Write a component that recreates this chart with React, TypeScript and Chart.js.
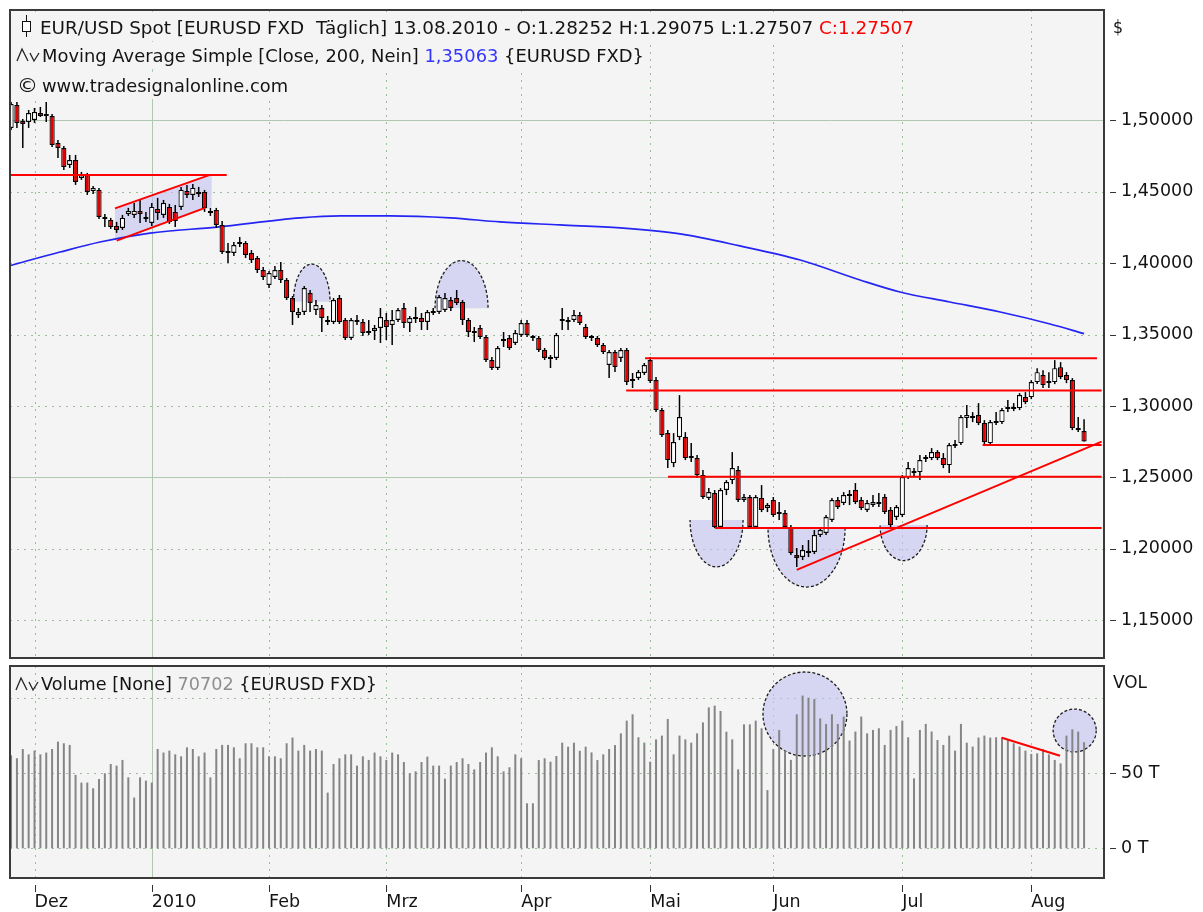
import React, { useEffect, useRef } from 'react';
import { Chart, registerables } from 'chart.js';

Chart.register(...registerables);

const FONT = '"DejaVu Sans", Verdana, sans-serif';
const PLOT_BG = '#f4f4f4';
const GRID_DOT = '#9cbc9c';
const GRID_SOLID = '#b0c8b0';
const BORDER = '#3a3a3a';
const TEXT = '#141414';
const RED = '#ff0000';
const BODY_RED = '#e40000';
const LAVENDER = 'rgba(196,196,240,0.62)';

// ---------- price data (EUR/USD daily, index 0 = 25.11.2009) ----------
const opens = [1.4947, 1.5108, 1.4996, 1.4989, 1.5003, 1.5052, 1.5031, 1.5031, 1.4842, 1.4807,
  1.4688, 1.4723, 1.4597, 1.4618, 1.4506, 1.4513, 1.4324, 1.4303, 1.4261, 1.4247,
  1.4345, 1.4338, 1.4366, 1.4324, 1.4282, 1.4380, 1.4338, 1.4394, 1.4359, 1.4394,
  1.4506, 1.4478, 1.4492, 1.4499, 1.4366, 1.4373, 1.4268, 1.4085, 1.4071, 1.4148,
  1.4141, 1.4071, 1.4036, 1.3952, 1.3847, 1.3903, 1.3952, 1.3882, 1.3756, 1.3637,
  1.3658, 1.3791, 1.3672, 1.3686, 1.3602, 1.3588, 1.3756, 1.3602, 1.3476, 1.3602,
  1.3588, 1.3518, 1.3525, 1.3546, 1.3602, 1.3567, 1.3602, 1.3686, 1.3581, 1.3616,
  1.3616, 1.3588, 1.3665, 1.3658, 1.3672, 1.3742, 1.3756, 1.3728, 1.3602, 1.3525,
  1.3546, 1.3483, 1.3322, 1.3266, 1.3455, 1.3476, 1.3441, 1.3497, 1.3581, 1.3483,
  1.3476, 1.3392, 1.3336, 1.3336, 1.3595, 1.3588, 1.3602, 1.3637, 1.3553, 1.3476,
  1.3476, 1.3427, 1.3287, 1.3378, 1.3336, 1.3392, 1.3175, 1.3196, 1.3231, 1.3322,
  1.3182, 1.2971, 1.2810, 1.2600, 1.2782, 1.2782, 1.2635, 1.2635, 1.2516, 1.2355,
  1.2390, 1.2152, 1.2411, 1.2481, 1.2551, 1.2341, 1.2362, 1.2152, 1.2355, 1.2285,
  1.2341, 1.2243, 1.2250, 1.2152, 1.1956, 1.1942, 1.1984, 1.1977, 1.2096, 1.2110,
  1.2201, 1.2341, 1.2320, 1.2369, 1.2411, 1.2341, 1.2271, 1.2306, 1.2320, 1.2362,
  1.2271, 1.2222, 1.2236, 1.2502, 1.2544, 1.2537, 1.2628, 1.2635, 1.2677, 1.2635,
  1.2586, 1.2719, 1.2740, 1.2915, 1.2929, 1.2936, 1.2880, 1.2740, 1.2880, 1.2887,
  1.2978, 1.2985, 1.2985, 1.3062, 1.3062, 1.3167, 1.3216, 1.3174, 1.3167, 1.3272,
  1.3216, 1.3181, 1.2845, 1.28252];

const highs = [1.5129, 1.5129, 1.5010, 1.5073, 1.5087, 1.5094, 1.5129, 1.5045, 1.4863, 1.4821,
  1.4758, 1.4758, 1.4639, 1.4632, 1.4541, 1.4527, 1.4345, 1.4317, 1.4289, 1.4338,
  1.4387, 1.4422, 1.4443, 1.4359, 1.4422, 1.4457, 1.4443, 1.4415, 1.4408, 1.4534,
  1.4548, 1.4555, 1.4534, 1.4513, 1.4387, 1.4387, 1.4296, 1.4141, 1.4148, 1.4183,
  1.4155, 1.4092, 1.4050, 1.3973, 1.3945, 1.3980, 1.4008, 1.3896, 1.3770, 1.3686,
  1.3840, 1.3812, 1.3742, 1.3707, 1.3630, 1.3756, 1.3777, 1.3616, 1.3616, 1.3637,
  1.3609, 1.3602, 1.3567, 1.3686, 1.3651, 1.3672, 1.3686, 1.3721, 1.3630, 1.3693,
  1.3651, 1.3672, 1.3686, 1.3777, 1.3791, 1.3763, 1.3812, 1.3742, 1.3616, 1.3553,
  1.3567, 1.3497, 1.3343, 1.3420, 1.3518, 1.3497, 1.3532, 1.3602, 1.3602, 1.3497,
  1.3490, 1.3406, 1.3357, 1.3511, 1.3686, 1.3623, 1.3672, 1.3658, 1.3574, 1.3497,
  1.3490, 1.3441, 1.3392, 1.3392, 1.3406, 1.3406, 1.3231, 1.3252, 1.3301, 1.3343,
  1.3203, 1.2985, 1.2831, 1.2810, 1.3076, 1.2817, 1.2740, 1.2656, 1.2551, 1.2425,
  1.2411, 1.2425, 1.2481, 1.2677, 1.2579, 1.2383, 1.2376, 1.2376, 1.2446, 1.2320,
  1.2362, 1.2327, 1.2271, 1.2166, 1.2005, 1.2026, 1.2061, 1.2131, 1.2145, 1.2236,
  1.2355, 1.2362, 1.2397, 1.2411, 1.2460, 1.2362, 1.2341, 1.2376, 1.2390, 1.2383,
  1.2292, 1.2306, 1.2516, 1.2607, 1.2565, 1.2656, 1.2656, 1.2705, 1.2691, 1.2670,
  1.2740, 1.2761, 1.2936, 1.3006, 1.2957, 1.3020, 1.2901, 1.2901, 1.2957, 1.2985,
  1.3041, 1.3020, 1.3090, 1.3097, 1.3181, 1.3265, 1.3251, 1.3237, 1.3321, 1.3307,
  1.3237, 1.3195, 1.2922, 1.29075];

const lows = [1.4933, 1.4947, 1.4807, 1.4947, 1.4982, 1.5024, 1.4989, 1.4814, 1.4737, 1.4653,
  1.4667, 1.4548, 1.4583, 1.4478, 1.4485, 1.4310, 1.4254, 1.4240, 1.4212, 1.4233,
  1.4331, 1.4317, 1.4282, 1.4289, 1.4261, 1.4303, 1.4317, 1.4275, 1.4254, 1.4373,
  1.4457, 1.4443, 1.4464, 1.4359, 1.4331, 1.4247, 1.4064, 1.4001, 1.4050, 1.4113,
  1.4036, 1.4001, 1.3931, 1.3882, 1.3826, 1.3889, 1.3861, 1.3742, 1.3567, 1.3616,
  1.3637, 1.3658, 1.3637, 1.3518, 1.3567, 1.3574, 1.3574, 1.3462, 1.3462, 1.3567,
  1.3490, 1.3497, 1.3462, 1.3441, 1.3462, 1.3427, 1.3588, 1.3546, 1.3518, 1.3581,
  1.3532, 1.3532, 1.3637, 1.3644, 1.3658, 1.3665, 1.3707, 1.3567, 1.3483, 1.3448,
  1.3469, 1.3308, 1.3252, 1.3252, 1.3413, 1.3392, 1.3427, 1.3483, 1.3483, 1.3455,
  1.3378, 1.3322, 1.3266, 1.3322, 1.3532, 1.3532, 1.3588, 1.3567, 1.3469, 1.3455,
  1.3413, 1.3364, 1.3196, 1.3238, 1.3308, 1.3147, 1.3126, 1.3182, 1.3217, 1.3161,
  1.2957, 1.2782, 1.2565, 1.2572, 1.2761, 1.2621, 1.2607, 1.2495, 1.2348, 1.2341,
  1.2145, 1.2138, 1.2376, 1.2453, 1.2327, 1.2327, 1.2145, 1.2138, 1.2257, 1.2257,
  1.2222, 1.2201, 1.2138, 1.1956, 1.1872, 1.1921, 1.1942, 1.1963, 1.2082, 1.2096,
  1.2187, 1.2278, 1.2306, 1.2306, 1.2313, 1.2271, 1.2257, 1.2292, 1.2292, 1.2243,
  1.2152, 1.2201, 1.2222, 1.2488, 1.2502, 1.2481, 1.2607, 1.2621, 1.2621, 1.2565,
  1.2530, 1.2705, 1.2726, 1.2845, 1.2887, 1.2866, 1.2733, 1.2726, 1.2866, 1.2873,
  1.2957, 1.2964, 1.2971, 1.3013, 1.3048, 1.3153, 1.3125, 1.3125, 1.3153, 1.3188,
  1.3160, 1.2831, 1.2817, 1.27507];

const closes = [1.5115, 1.4982, 1.4975, 1.5052, 1.5059, 1.5031, 1.5045, 1.4828, 1.4807, 1.4674,
  1.4723, 1.4569, 1.4618, 1.4499, 1.4527, 1.4324, 1.4310, 1.4254, 1.4233, 1.4317,
  1.4366, 1.4366, 1.4345, 1.4310, 1.4394, 1.4352, 1.4422, 1.4289, 1.4296, 1.4513,
  1.4478, 1.4527, 1.4485, 1.4387, 1.4352, 1.4268, 1.4078, 1.4071, 1.4127, 1.4134,
  1.4057, 1.4022, 1.3952, 1.3903, 1.3931, 1.3952, 1.3882, 1.3756, 1.3658, 1.3658,
  1.3826, 1.3721, 1.3707, 1.3616, 1.3588, 1.3742, 1.3588, 1.3476, 1.3602, 1.3588,
  1.3511, 1.3511, 1.3546, 1.3623, 1.3553, 1.3602, 1.3672, 1.3581, 1.3616, 1.3609,
  1.3588, 1.3658, 1.3651, 1.3763, 1.3756, 1.3686, 1.3721, 1.3602, 1.3518, 1.3511,
  1.3483, 1.3322, 1.3266, 1.3406, 1.3469, 1.3406, 1.3511, 1.3581, 1.3497, 1.3476,
  1.3392, 1.3336, 1.3329, 1.3497, 1.3609, 1.3595, 1.3637, 1.3581, 1.3483, 1.3483,
  1.3427, 1.3378, 1.3378, 1.3273, 1.3392, 1.3168, 1.3189, 1.3238, 1.3287, 1.3175,
  1.2971, 1.2796, 1.2621, 1.2747, 1.2922, 1.2635, 1.2642, 1.2516, 1.2362, 1.2397,
  1.2152, 1.2411, 1.2467, 1.2565, 1.2341, 1.2362, 1.2152, 1.2362, 1.2271, 1.2306,
  1.2236, 1.2257, 1.2152, 1.1970, 1.1935, 1.1991, 1.1970, 1.2096, 1.2131, 1.2222,
  1.2341, 1.2292, 1.2376, 1.2383, 1.2327, 1.2285, 1.2320, 1.2327, 1.2313, 1.2257,
  1.2166, 1.2292, 1.2502, 1.2565, 1.2530, 1.2621, 1.2642, 1.2677, 1.2635, 1.2586,
  1.2726, 1.2733, 1.2922, 1.2936, 1.2915, 1.2880, 1.2747, 1.2887, 1.2887, 1.2971,
  1.2992, 1.2978, 1.3076, 1.3027, 1.3167, 1.3237, 1.3146, 1.3160, 1.3265, 1.3202,
  1.3181, 1.2845, 1.2831, 1.27507];

// volume in thousands
const volumes = [62.0, 60.0, 66.2, 62.6, 65.1, 62.6, 63.8, 66.2, 71.1, 70.0,
  68.9, 48.9, 43.8, 43.8, 40.0, 46.2, 50.0, 56.2, 55.1, 58.9,
  47.3, 33.8, 47.3, 45.1, 43.8, 66.2, 63.8, 65.1, 62.6, 61.3,
  67.3, 66.2, 61.3, 63.8, 47.3, 66.2, 68.9, 68.9, 67.3, 60.0,
  70.0, 70.0, 67.3, 67.3, 61.3, 61.3, 60.0, 70.0, 73.8, 65.1,
  68.9, 65.1, 66.2, 65.1, 37.1, 56.2, 60.0, 62.6, 62.6, 55.1,
  61.3, 58.9, 63.8, 61.3, 58.9, 63.8, 62.6, 57.5, 50.0, 51.3,
  57.5, 61.1, 55.1, 55.1, 46.4, 55.1, 57.5, 60.0, 56.2, 52.6,
  57.5, 63.8, 67.3, 61.3, 51.3, 54.0, 62.6, 60.0, 30.0, 30.0,
  58.8, 60.0, 57.7, 61.5, 70.4, 67.7, 70.4, 65.0, 67.7, 63.9,
  58.8, 62.6, 66.2, 68.8, 76.6, 85.1, 89.3, 74.0, 70.4, 57.7,
  72.6, 75.1, 86.2, 62.6, 75.1, 72.6, 70.4, 76.6, 83.9, 93.9,
  95.1, 91.5, 77.7, 72.6, 52.6, 82.6, 82.6, 85.1, 80.0, 38.8,
  66.2, 78.8, 65.1, 58.9, 89.3, 101.8, 100.4, 99.5, 86.6, 82.9,
  89.3, 82.9, 87.8, 71.8, 77.8, 87.8, 76.6, 78.9, 80.0, 68.9,
  78.9, 81.5, 85.1, 74.0, 46.6, 78.9, 82.9, 77.8, 72.2, 68.9,
  75.1, 65.1, 82.9, 70.4, 67.8, 73.8, 75.1, 73.8, 74.0, 74.0,
  72.2, 70.0, 67.8, 65.1, 62.9, 63.3, 66.2, 62.6, 58.9, 56.6,
  75.1, 79.3, 77.8, 70.702];

// 200-day simple moving average, read at sample positions
const maIdx = [-0.18, 8.35, 15.17, 23.7, 35.1, 49.3, 56.1, 64.6, 74.9, 83.4, 93.6, 103.9, 114.1, 124.3, 134.6, 144.8, 151.6, 160.1, 168.7, 177.2, 183.0];
const maVal = [1.3983, 1.4078, 1.4148, 1.4211, 1.4253, 1.4317, 1.4331, 1.4331, 1.4317, 1.4289, 1.4268, 1.4247, 1.4205, 1.4121, 1.4022, 1.3882, 1.3798, 1.3728, 1.3658, 1.3574, 1.35063];

// month ticks (bar index of first trading day)
const monthIdx = [4, 24, 44, 64, 87, 109, 130, 152, 174];
const monthLabels = ['Dez', '2010', 'Feb', 'Mrz', 'Apr', 'Mai', 'Jun', 'Jul', 'Aug'];

const priceTicks = [1.15, 1.2, 1.25, 1.3, 1.35, 1.4, 1.45, 1.5];
const priceSolid = [1.25, 1.5];
const volGrid = [0, 50, 100];
const volTicks = [0, 50];

// drawn annotations (data coordinates)
const hLineLevel = [1.4618, 1.3334, 1.3109, 1.2727, 1.2505, 1.2146];
const hLineFrom = [-0.5, 108.13, 104.9, 165.7, 112.05, 120.07];
const hLineTo = [36.78, 185.2, 186.0, 186.0, 186.0, 186.0];
const channelUpperX = [17.73, 33.93];
const channelUpperY = [1.4384, 1.4618];
const channelLowerX = [18.02, 33.08];
const channelLowerY = [1.4158, 1.4387];
const channelShadeX = [17.73, 34.22, 34.22, 17.73];
const channelShadeY = [1.4384, 1.4618, 1.4394, 1.4155];
const trendX = [134.0, 186.0];
const trendY = [1.1852, 1.2750];
const domeX = [51.28, 76.83, 120.32, 135.67, 152.22];
const domeBase = [1.3730, 1.3684, 1.2202, 1.2146, 1.2167];
const domeRX = [3.12, 4.52, 4.52, 6.57, 4.01];
const domeRY = [0.0264, 0.0334, -0.0329, -0.0414, -0.025];
const volCircleX = [135.4, 181.4];
const volCircleY = [89.5, 78.5];
const volCircleRX = [7.16, 3.67];
const volCircleRY = [28, 14.3];
const volTrendX = [168.97, 178.9];
const volTrendY = [73.7, 61.7];

const X_MIN = -0.18, X_MAX = 186.4;
const P_MIN = 1.1235, P_MAX = 1.5773;
const V_MIN = -19.8, V_MAX = 121.5;

const last = opens.length - 1;

function drawGrid(chart: any, hVals: number[], hSolid: number[]) {
  const { ctx, chartArea: a, scales } = chart;
  const sx = scales.x, sy = scales.y;
  ctx.save();
  ctx.fillStyle = PLOT_BG;
  ctx.fillRect(a.left, a.top, a.right - a.left, a.bottom - a.top);
  ctx.lineWidth = 1;
  hVals.forEach((v) => {
    const py = Math.round(sy.getPixelForValue(v)) + 0.5;
    const solid = hSolid.includes(v);
    ctx.strokeStyle = solid ? GRID_SOLID : GRID_DOT;
    ctx.setLineDash(solid ? [] : [2, 5]);
    ctx.beginPath(); ctx.moveTo(a.left, py); ctx.lineTo(a.right, py); ctx.stroke();
  });
  monthIdx.forEach((m, k) => {
    const px = Math.round(sx.getPixelForValue(m)) + 0.5;
    const solid = monthLabels[k] === '2010';
    ctx.strokeStyle = solid ? GRID_SOLID : GRID_DOT;
    ctx.setLineDash(solid ? [] : [2, 5]);
    ctx.beginPath(); ctx.moveTo(px, a.top); ctx.lineTo(px, a.bottom); ctx.stroke();
  });
  ctx.restore();
}

function drawBorder(chart: any) {
  const { ctx, chartArea: a } = chart;
  ctx.save();
  ctx.strokeStyle = BORDER;
  ctx.lineWidth = 2;
  ctx.strokeRect(a.left, a.top, a.right - a.left, a.bottom - a.top);
  ctx.restore();
}

function drawRow(ctx: any, segs: Array<[string, string]>, x: number, base: number, target: number, size = 17.5) {
  ctx.save();
  ctx.font = `${size}px ${FONT}`;
  ctx.textBaseline = 'alphabetic';
  ctx.textAlign = 'left';
  const total = segs.reduce((s, [t]) => s + ctx.measureText(t).width, 0);
  const k = target / total;
  ctx.translate(x, base);
  ctx.scale(k, 1);
  let cx = 0;
  for (const [t, c] of segs) {
    ctx.fillStyle = c;
    ctx.fillText(t, cx, 0);
    cx += ctx.measureText(t).width;
  }
  ctx.restore();
}

function drawRightTicks(chart: any, vals: number[]) {
  const { ctx, scales } = chart;
  ctx.save();
  ctx.strokeStyle = '#333';
  ctx.lineWidth = 1;
  vals.forEach((v) => {
    const py = Math.round(scales.y.getPixelForValue(v)) + 0.5;
    ctx.beginPath(); ctx.moveTo(1110, py); ctx.lineTo(1116, py); ctx.stroke();
  });
  ctx.restore();
}

function drawWaveIcon(ctx: any, x: number, base: number) {
  ctx.save();
  ctx.strokeStyle = '#222';
  ctx.lineWidth = 1.3;
  ctx.beginPath();
  ctx.moveTo(x, base);
  ctx.lineTo(x + 5, base - 12);
  ctx.lineTo(x + 11, base);
  ctx.moveTo(x + 13, base - 8);
  ctx.lineTo(x + 17, base);
  ctx.lineTo(x + 22, base - 8);
  ctx.stroke();
  ctx.restore();
}

const pricePlugin = {
  id: 'pricePlugin',
  beforeDraw(chart: any) {
    drawGrid(chart, priceTicks, priceSolid);
  },
  beforeDatasetsDraw(chart: any) {
    const { ctx, scales } = chart;
    const sx = scales.x, sy = scales.y;
    ctx.save();
    ctx.fillStyle = LAVENDER;
    ctx.beginPath();
    channelShadeX.forEach((vx, k) => {
      const px = sx.getPixelForValue(vx), py = sy.getPixelForValue(channelShadeY[k]);
      if (k === 0) ctx.moveTo(px, py); else ctx.lineTo(px, py);
    });
    ctx.closePath();
    ctx.fill();
    domeX.forEach((dx, k) => {
      const cx = sx.getPixelForValue(dx);
      const cy = sy.getPixelForValue(domeBase[k]);
      const rx = Math.abs(sx.getPixelForValue(dx + domeRX[k]) - cx);
      const ry = Math.abs(sy.getPixelForValue(domeBase[k] + domeRY[k]) - cy);
      const up = domeRY[k] > 0;
      ctx.beginPath();
      ctx.ellipse(cx, cy, rx, ry, 0, up ? Math.PI : 0, up ? 2 * Math.PI : Math.PI);
      ctx.fillStyle = LAVENDER;
      ctx.fill();
      ctx.setLineDash([3, 2]);
      ctx.strokeStyle = '#1e1e1e';
      ctx.lineWidth = 1.3;
      ctx.stroke();
      ctx.setLineDash([]);
    });
    ctx.restore();
  },
  afterDraw(chart: any) {
    const { ctx } = chart;
    drawBorder(chart);
    ctx.save();
    ctx.fillStyle = PLOT_BG;
    ctx.fillRect(12, 12, 906, 29);
    ctx.fillRect(12, 42, 636, 27);
    ctx.fillRect(12, 72, 280, 27);
    ctx.strokeStyle = '#111';
    ctx.lineWidth = 1;
    ctx.beginPath(); ctx.moveTo(26.5, 15); ctx.lineTo(26.5, 37); ctx.stroke();
    ctx.fillStyle = '#fff';
    ctx.fillRect(22.5, 21.5, 8, 10);
    ctx.strokeRect(22.5, 21.5, 8, 10);
    ctx.restore();
    const o = opens[last].toFixed(5), h = highs[last].toFixed(5), l = lows[last].toFixed(5), c = closes[last].toFixed(5);
    drawRow(ctx, [[`EUR/USD Spot [EURUSD FXD  Täglich] 13.08.2010 - O:${o} H:${h} L:${l} `, TEXT], [`C:${c}`, RED]], 40, 33.5, 874);
    drawWaveIcon(ctx, 17, 61);
    drawRow(ctx, [['Moving Average Simple [Close, 200, Nein] ', TEXT], [maVal[maVal.length - 1].toFixed(5).replace('.', ','), '#3434ff'], [' {EURUSD FXD}', TEXT]], 42, 61.5, 602);
    drawRow(ctx, [['©', TEXT]], 17, 91.5, 21, 19);
    drawRow(ctx, [['www.tradesignalonline.com', TEXT]], 42, 91.5, 246);
    drawRow(ctx, [['$', TEXT]], 1113, 33, 10);
    drawRightTicks(chart, priceTicks);
  },
};

const volPlugin = {
  id: 'volPlugin',
  beforeDraw(chart: any) {
    drawGrid(chart, volGrid, []);
  },
  beforeDatasetsDraw(chart: any) {
    const { ctx, scales } = chart;
    const sx = scales.x, sy = scales.y;
    ctx.save();
    volCircleX.forEach((vx, k) => {
      const cx = sx.getPixelForValue(vx);
      const cy = sy.getPixelForValue(volCircleY[k]);
      const rx = Math.abs(sx.getPixelForValue(vx + volCircleRX[k]) - cx);
      const ry = Math.abs(sy.getPixelForValue(volCircleY[k] + volCircleRY[k]) - cy);
      ctx.beginPath();
      ctx.ellipse(cx, cy, rx, ry, 0, 0, 2 * Math.PI);
      ctx.fillStyle = LAVENDER;
      ctx.fill();
      ctx.setLineDash([3, 2]);
      ctx.strokeStyle = '#1e1e1e';
      ctx.lineWidth = 1.3;
      ctx.stroke();
      ctx.setLineDash([]);
    });
    ctx.restore();
  },
  afterDraw(chart: any) {
    const { ctx, scales } = chart;
    drawBorder(chart);
    drawWaveIcon(ctx, 16, 28);
    drawRow(ctx, [['Volume [None] ', TEXT], [String(Math.round(volumes[last] * 1000)), '#8e8e8e'], [' {EURUSD FXD}', TEXT]], 41, 28, 336);
    drawRow(ctx, [['VOL', TEXT]], 1113, 26, 34);
    drawRightTicks(chart, volTicks);
    ctx.save();
    ctx.strokeStyle = '#333';
    ctx.lineWidth = 1;
    monthIdx.forEach((m) => {
      const px = Math.round(scales.x.getPixelForValue(m)) + 0.5;
      ctx.beginPath(); ctx.moveTo(px, 223); ctx.lineTo(px, 230); ctx.stroke();
    });
    ctx.restore();
  },
};

function lineDs(xs: number[], ys: number[], color: string, width: number, order: number) {
  return {
    type: 'line',
    data: xs.map((x, k) => ({ x, y: ys[k] })),
    borderColor: color,
    borderWidth: width,
    pointRadius: 0,
    fill: false,
    order,
  };
}

function priceConfig(): any {
  const idx = opens.map((_, i) => i);
  const datasets: any[] = [
    { ...lineDs(maIdx, maVal, '#2424f4', 1.7, 6), cubicInterpolationMode: 'monotone' },
    {
      type: 'bar', data: idx.map((i) => ({ x: i, y: [lows[i], highs[i]] })),
      backgroundColor: '#000', borderWidth: 0, barThickness: 1.5, grouped: false, inflateAmount: 0, order: 5,
    },
    {
      type: 'bar', data: idx.map((i) => ({ x: i, y: [opens[i], closes[i]] })),
      backgroundColor: idx.map((i) => (closes[i] < opens[i] ? BODY_RED : '#ffffff')),
      borderColor: '#000', borderWidth: 1.2, borderSkipped: false, barThickness: 5.2, grouped: false,
      inflateAmount: 0, minBarLength: 2, order: 4,
    },
  ];
  hLineLevel.forEach((lv, k) => datasets.push(lineDs([hLineFrom[k], hLineTo[k]], [lv, lv], RED, 2, 1)));
  datasets.push(lineDs(channelUpperX, channelUpperY, RED, 2, 1));
  datasets.push(lineDs(channelLowerX, channelLowerY, RED, 2, 1));
  datasets.push(lineDs(trendX, trendY, RED, 2, 1));
  return {
    type: 'bar',
    data: { datasets },
    options: {
      animation: false, responsive: false, devicePixelRatio: 1, events: [],
      layout: { padding: { left: 10, top: 10, right: 0, bottom: 4 } },
      plugins: { legend: { display: false }, tooltip: { enabled: false } },
      scales: {
        x: { type: 'linear', min: X_MIN, max: X_MAX, offset: false, display: false },
        y: {
          type: 'linear', position: 'right', min: P_MIN, max: P_MAX,
          afterBuildTicks: (s: any) => { s.ticks = priceTicks.map((v) => ({ value: v })); },
          afterFit: (s: any) => { s.width = 99; s.paddingTop = 0; s.paddingBottom = 0; },
          grid: { display: false, drawTicks: false }, border: { display: false },
          ticks: {
            font: { family: FONT, size: 17.5 }, color: TEXT, padding: 17,
            callback: (v: any) => Number(v).toFixed(5).replace('.', ','),
          },
        },
      },
    },
    plugins: [pricePlugin],
  };
}

function volConfig(): any {
  return {
    type: 'bar',
    data: {
      datasets: [
        {
          type: 'bar', data: volumes.map((v, i) => ({ x: i, y: v })),
          backgroundColor: '#858585', borderWidth: 0, barThickness: 2, grouped: false, inflateAmount: 0, order: 2,
        },
        lineDs(volTrendX, volTrendY, RED, 2, 1),
      ],
    },
    options: {
      animation: false, responsive: false, devicePixelRatio: 1, events: [],
      layout: { padding: { left: 10, top: 4, right: 0, bottom: 0 } },
      plugins: { legend: { display: false }, tooltip: { enabled: false } },
      scales: {
        x: {
          type: 'linear', min: X_MIN, max: X_MAX, offset: false,
          afterBuildTicks: (s: any) => { s.ticks = monthIdx.map((v) => ({ value: v })); },
          afterFit: (s: any) => { s.height = 34; s.paddingLeft = 0; s.paddingRight = 0; },
          grid: { display: false, drawTicks: false }, border: { display: false },
          ticks: {
            autoSkip: false, maxRotation: 0, minRotation: 0, align: 'start', padding: 14,
            font: { family: FONT, size: 17.5 }, color: TEXT,
            callback: (_v: any, i: number) => monthLabels[i],
          },
        },
        y: {
          type: 'linear', position: 'right', min: V_MIN, max: V_MAX,
          afterBuildTicks: (s: any) => { s.ticks = volTicks.map((v) => ({ value: v })); },
          afterFit: (s: any) => { s.width = 99; s.paddingTop = 0; s.paddingBottom = 0; },
          grid: { display: false, drawTicks: false }, border: { display: false },
          ticks: {
            font: { family: FONT, size: 17.5 }, color: TEXT, padding: 17,
            callback: (v: any) => `${v} T`,
          },
        },
      },
    },
    plugins: [volPlugin],
  };
}

export default function App() {
  const priceRef = useRef<HTMLCanvasElement>(null);
  const volRef = useRef<HTMLCanvasElement>(null);
  useEffect(() => {
    const c1 = new Chart(priceRef.current as HTMLCanvasElement, priceConfig());
    const c2 = new Chart(volRef.current as HTMLCanvasElement, volConfig());
    return () => { c1.destroy(); c2.destroy(); };
  }, []);
  return (
    <div style={{ position: 'absolute', left: 0, top: 0, width: 1203, height: 912, background: '#fff' }}>
      <canvas ref={priceRef} width={1203} height={662} style={{ position: 'absolute', left: 0, top: 0 }} />
      <canvas ref={volRef} width={1203} height={250} style={{ position: 'absolute', left: 0, top: 662 }} />
    </div>
  );
}
